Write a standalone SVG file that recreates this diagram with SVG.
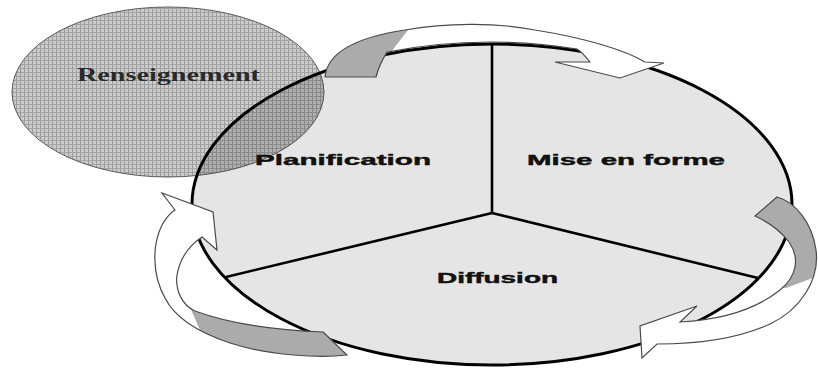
<svg xmlns="http://www.w3.org/2000/svg" width="818" height="371" viewBox="0 0 818 371">
  <style>
    .label { font-family: "Liberation Sans", Arial, sans-serif; font-weight: bold; font-size: 15.5px; fill: #111; stroke: #111; stroke-width: 0.45; }
    .serif { font-family: "Liberation Serif", "Times New Roman", serif; font-weight: bold; font-size: 19px; fill: #2a2a2a; }
    .outline { fill: none; stroke: #000; stroke-width: 3; }
    .spoke { stroke: #000; stroke-width: 2.6; stroke-linecap: butt; }
    .band { fill: #fff; stroke: none; }
    .band-back { fill: #ababab; stroke: none; }
    .band-edge { fill: none; stroke: #4a4a4a; stroke-width: 1.2; stroke-linejoin: miter; }
  </style>
  <defs>
    <pattern id="grid" width="4" height="4" patternUnits="userSpaceOnUse">
      <rect width="4" height="4" fill="#cbcbcb"/>
      <rect width="1" height="4" fill="#9c9c9c"/>
      <rect width="4" height="1" fill="#a4a4a4"/>
    </pattern>
    <clipPath id="cycle-clip">
      <ellipse cx="492" cy="204.5" rx="300" ry="160.5"/>
    </clipPath>
    <!-- ribbon arrows -->
    <path id="arrow-top" d="M325,77 C327,55 352,38 405,30 C445,23 495,22 535,30 C585,38 625,50 645,62 L664,63 L620,78 L555,62 L590,62 C586,57 582,52 577,49 A302,162.5 0 0 0 387,52.1 C382,60 378,69 376,77 Z"/>
    <path id="arrow-right" d="M755,216 L777,197 C795,202 812,222 816,250 C820,280 800,310 770,324 C735,340 695,344 657,344 L642,358 L640,326 L697,306 L680,322 C720,320 755,310 780,290 C797,276 800,258 789,242 C780,230 768,222 755,216 Z"/>
    <path id="arrow-left" d="M323,332 L347,355 C320,358 270,356 230,343 C200,333 175,318 165,298 C152,275 152,245 162,225 C166,218 170,213 175,210 L162,193 L213,212 L217,250 L202,237 C190,245 180,258 177,275 C175,290 182,305 195,311 C225,322 270,330 323,332 Z"/>
    <clipPath id="back-top"><polygon points="300,0 412,0 408,30 388,56 380,90 300,90"/></clipPath>
    <clipPath id="back-right"><polygon points="730,150 818,150 818,276 786,288 730,288"/></clipPath>
    <clipPath id="back-left"><polygon points="185,296 400,296 400,371 215,371 200,330"/></clipPath>
  </defs>

  <rect width="818" height="371" fill="#fff"/>

  <!-- cycle body: three sectors -->
  <g id="cycle">
    <path id="sector-planification" d="M492,213 L492,44 A300,160.5 0 0 0 226,277 Z" fill="#e5e5e5"/>
    <path id="sector-mise-en-forme" d="M492,213 L492,44 A300,160.5 0 0 1 758,278 Z" fill="#e5e5e5"/>
    <path id="sector-diffusion" d="M492,213 L758,278 A300,160.5 0 0 1 226,277 Z" fill="#e5e5e5"/>
  </g>

  <!-- Renseignement bubble -->
  <g id="renseignement">
    <ellipse cx="168" cy="92" rx="156" ry="85" fill="url(#grid)" stroke="#5a5a5a" stroke-width="1"/>
    <ellipse cx="168" cy="92" rx="156" ry="85" fill="#000" fill-opacity="0.14" clip-path="url(#cycle-clip)"/>
    <text class="serif" x="77" y="81" textLength="183" lengthAdjust="spacingAndGlyphs">Renseignement</text>
  </g>

  <!-- outline and dividers -->
  <g id="cycle-lines">
    <ellipse class="outline" cx="492" cy="204.5" rx="300" ry="160.5"/>
    <line class="spoke" x1="492" y1="213" x2="492" y2="44"/>
    <line class="spoke" x1="492" y1="213" x2="226" y2="277"/>
    <line class="spoke" x1="492" y1="213" x2="758" y2="278"/>
  </g>

  <g id="planification">
    <text class="label" x="255" y="165" textLength="176" lengthAdjust="spacingAndGlyphs">Planification</text>
  </g>
  <g id="mise-en-forme">
    <text class="label" x="527" y="165" textLength="198" lengthAdjust="spacingAndGlyphs">Mise en forme</text>
  </g>
  <g id="diffusion">
    <text class="label" x="437" y="283" textLength="121" lengthAdjust="spacingAndGlyphs">Diffusion</text>
  </g>

  <!-- connectors: twisted ribbon arrows, grey back side at the tail -->
  <g id="connectors">
    <g id="flow-top">
      <use href="#arrow-top" class="band"/>
      <use href="#arrow-top" class="band-back" clip-path="url(#back-top)"/>
      <use href="#arrow-top" class="band-edge"/>
    </g>
    <g id="flow-right">
      <use href="#arrow-right" class="band"/>
      <use href="#arrow-right" class="band-back" clip-path="url(#back-right)"/>
      <use href="#arrow-right" class="band-edge"/>
    </g>
    <g id="flow-left">
      <use href="#arrow-left" class="band"/>
      <use href="#arrow-left" class="band-back" clip-path="url(#back-left)"/>
      <use href="#arrow-left" class="band-edge"/>
    </g>
  </g>
</svg>
